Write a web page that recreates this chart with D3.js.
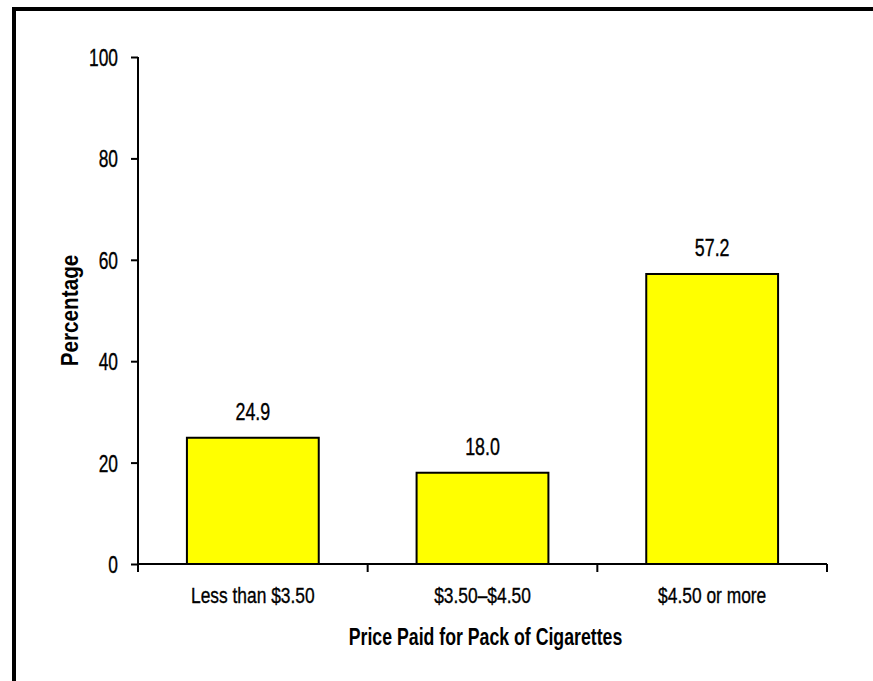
<!DOCTYPE html>
<html>
<head>
<meta charset="utf-8">
<script src="https://cdn.jsdelivr.net/npm/d3@7"></script>
<style>
  html, body { margin: 0; padding: 0; background: #fff; }
  svg text { font-family: "Liberation Sans", Arial, sans-serif; fill: #000; }
  svg text.reg { stroke: #000; stroke-width: 0.35px; }
</style>
</head>
<body>
<svg id="chart" width="873" height="681"></svg>
<script>
// Share of smokers by price paid for their last pack of cigarettes
const categories = ["Less than $3.50", "$3.50\u2013$4.50", "$4.50 or more"];
const percentages = [24.9, 18.0, 57.2];
const valueLabels = ["24.9", "18.0", "57.2"];
const yTicks = [0, 20, 40, 60, 80, 100];
const xTitle = "Price Paid for Pack of Cigarettes";
const yTitle = "Percentage";

const svg = d3.select("#chart");

// Frame lines along the top and left edges
svg.append("rect").attr("x", 12).attr("y", 7).attr("width", 861).attr("height", 4).attr("fill", "#000");
svg.append("rect").attr("x", 12).attr("y", 7).attr("width", 4).attr("height", 674).attr("fill", "#000");

const plot = { left: 138, right: 827, top: 57, bottom: 564 };

const y = d3.scaleLinear().domain([0, 100]).range([plot.bottom, plot.top]);
const x = d3.scaleBand().domain(categories).range([plot.left, plot.right])
  .paddingInner(0.426).paddingOuter(0.213);

// Condensed lettering: horizontally squeezed text placed at (px, py)
function narrow(sel, px, py, sx) {
  return sel.attr("x", 0).attr("y", 0)
    .attr("transform", (d, i) => `translate(${px(d, i)},${py(d, i)}) scale(${sx},1)`);
}

// Bars
svg.append("g").selectAll("rect")
  .data(categories)
  .join("rect")
  .attr("x", (d) => x(d))
  .attr("y", (d, i) => y(percentages[i]))
  .attr("width", x.bandwidth())
  .attr("height", (d, i) => y(0) - y(percentages[i]))
  .attr("fill", "#FFFF00")
  .attr("stroke", "#000")
  .attr("stroke-width", 2);

// Value labels above bars
narrow(
  svg.append("g").selectAll("text")
    .data(categories)
    .join("text")
    .attr("class", "reg")
    .attr("text-anchor", "middle")
    .style("font-size", "23.5px")
    .text((d, i) => valueLabels[i]),
  (d) => x(d) + x.bandwidth() / 2,
  (d, i) => y(percentages[i]) - 18,
  0.76
);

// Y axis
const yAxis = d3.axisLeft(y).tickValues(yTicks).tickSize(7).tickSizeOuter(0);
const gy = svg.append("g").attr("transform", `translate(${plot.left},0)`).call(yAxis);
gy.select(".domain").attr("stroke", "#000").attr("stroke-width", 2)
  .attr("d", `M0,${plot.top}V${plot.bottom + 8}`);
gy.selectAll(".tick line").attr("stroke", "#000").attr("stroke-width", 2);
gy.selectAll(".tick text")
  .attr("class", "reg")
  .style("font-size", "23.5px")
  .attr("x", 0).attr("dy", "0.36em")
  .attr("transform", "translate(-20,0) scale(0.74,1)");

// X axis: baseline with ticks at category boundaries
const boundaries = categories.map((d) => x(d) - x.step() * x.paddingInner() / 2)
  .concat([plot.right]);
const gx = svg.append("g");
gx.append("line")
  .attr("x1", plot.left).attr("x2", plot.right)
  .attr("y1", y(0)).attr("y2", y(0))
  .attr("stroke", "#000").attr("stroke-width", 2);
gx.selectAll("line.tick")
  .data(boundaries.slice(1))
  .join("line")
  .attr("class", "tick")
  .attr("x1", (d) => d).attr("x2", (d) => d)
  .attr("y1", y(0)).attr("y2", y(0) + 8)
  .attr("stroke", "#000").attr("stroke-width", 2);
narrow(
  gx.selectAll("text")
    .data(categories)
    .join("text")
    .attr("class", "reg")
    .attr("text-anchor", "middle")
    .style("font-size", "22px")
    .text((d) => d),
  (d) => x(d) + x.bandwidth() / 2,
  () => 603,
  0.79
);

// Axis titles
svg.append("text")
  .attr("text-anchor", "middle")
  .style("font-size", "23px")
  .style("font-weight", "bold")
  .attr("transform", `translate(${(plot.left + plot.right) / 2 + 3},645) scale(0.77,1)`)
  .text(xTitle);

svg.append("text")
  .attr("text-anchor", "middle")
  .style("font-size", "23px")
  .style("font-weight", "bold")
  .attr("transform", `translate(78,${(plot.top + plot.bottom) / 2}) rotate(-90) scale(0.9,1)`)
  .text(yTitle);
</script>
</body>
</html>
